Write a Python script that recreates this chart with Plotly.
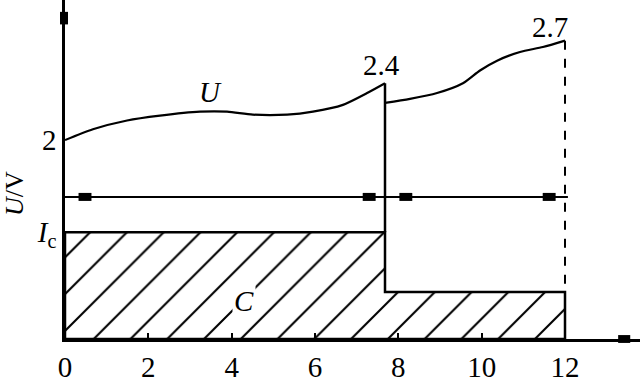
import plotly.graph_objects as go

# ---- data ----
# U curve, first segment (t from 0 to the switching point)
u1_x = [0.0, 0.67, 1.49, 2.28, 3.24, 3.89, 4.51, 5.33, 5.95, 6.67, 7.25, 7.68]
u1_y = [2.0, 2.076, 2.138, 2.172, 2.2, 2.2, 2.179, 2.179, 2.2, 2.248, 2.331, 2.4]
# U curve, second segment
u2_x = [7.68, 8.28, 8.93, 9.55, 9.96, 10.37, 10.92, 11.47, 12.0]
u2_y = [2.262, 2.29, 2.331, 2.4, 2.49, 2.559, 2.62, 2.655, 2.7]

t_switch = 7.68
t_end = 12.0
level_ic = 1.352      # I_c level
level_low = 0.931     # lower current level after switching
level_bar = 1.6       # horizontal bar with blocks
bar_end = 12.07
block_x = [0.48, 7.3, 8.18, 11.62]
block_half = 0.155
y_base = 0.6
y_top = 2.986
x_max = 13.8

xticks = [0, 2, 4, 6, 8, 10, 12]
peak_labels = ["2.4", "2.7"]

FONT = "Liberation Serif, Times New Roman, serif"
BLACK = "#000000"

fig = go.Figure()

# hatched region (capacity C)
fig.add_trace(go.Scatter(
    x=[0, 0, t_switch, t_switch, t_end, t_end, 0],
    y=[y_base, level_ic, level_ic, level_low, level_low, y_base, y_base],
    mode="lines", fill="toself", fillcolor="white",
    fillpattern=dict(shape="/", size=26, solidity=0.08, fgcolor=BLACK, fgopacity=1,
                     bgcolor="white"),
    line=dict(color=BLACK, width=2.5), hoverinfo="skip", showlegend=False))

# vertical drop at switching point
fig.add_trace(go.Scatter(x=[t_switch, t_switch], y=[u1_y[-1], level_ic], mode="lines",
                         line=dict(color=BLACK, width=2.5), showlegend=False))
# dashed vertical at the end
fig.add_trace(go.Scatter(x=[t_end, t_end], y=[u2_y[-1], level_low], mode="lines",
                         line=dict(color=BLACK, width=2, dash="dash"), showlegend=False))

# U curve
fig.add_trace(go.Scatter(x=u1_x, y=u1_y, mode="lines",
                         line=dict(color=BLACK, width=2.2, shape="spline", smoothing=0.7),
                         showlegend=False))
fig.add_trace(go.Scatter(x=u2_x, y=u2_y, mode="lines",
                         line=dict(color=BLACK, width=2.2, shape="spline", smoothing=0.7),
                         showlegend=False))

# horizontal bar line
fig.add_trace(go.Scatter(x=[0, bar_end], y=[level_bar, level_bar], mode="lines",
                         line=dict(color=BLACK, width=2), showlegend=False))
# blocks on the bar
bx, by = [], []
for b in block_x:
    bx += [b - block_half, b + block_half, None]
    by += [level_bar, level_bar, None]
fig.add_trace(go.Scatter(x=bx, y=by, mode="lines", line=dict(color=BLACK, width=8),
                         showlegend=False))

# text labels
fig.add_annotation(x=u1_x[-1], y=u1_y[-1], text=peak_labels[0], showarrow=False,
                   yanchor="bottom", yshift=0, xshift=-4, font=dict(family=FONT, size=29, color=BLACK))
fig.add_annotation(x=u2_x[-1], y=u2_y[-1], text=peak_labels[1], showarrow=False,
                   yanchor="bottom", yshift=-4, xshift=-15, font=dict(family=FONT, size=29, color=BLACK))
fig.add_annotation(x=3.5, y=2.34, text="<i>U</i>", showarrow=False,
                   font=dict(family=FONT, size=29, color=BLACK))
fig.add_annotation(x=4.3, y=0.87, text="<i>C</i>", showarrow=False, bgcolor="white",
                   borderpad=1, font=dict(family=FONT, size=29, color=BLACK))
fig.add_annotation(xref="paper", yref="paper", x=0, y=0.428, xshift=-50, xanchor="center",
                   yanchor="middle", text="<i>U</i>/V",
                   textangle=-90, showarrow=False, font=dict(family=FONT, size=26, color=BLACK))

# axis end blocks
fig.add_shape(type="rect", xref="paper", yref="paper", x0=-0.0087, x1=0.0052, y0=0.928, y1=0.965,
              fillcolor=BLACK, line=dict(width=0))
fig.add_shape(type="rect", xref="paper", yref="paper", x0=0.962, x1=0.983, y0=-0.0116, y1=0.0116,
              fillcolor=BLACK, line=dict(width=0))

fig.update_layout(
    width=640, height=383,
    margin=dict(l=65, r=0, t=0, b=37),
    paper_bgcolor="white", plot_bgcolor="white",
    font=dict(family=FONT, size=29, color=BLACK),
    showlegend=False,
    xaxis=dict(range=[0, x_max], tickvals=xticks, ticks="inside", ticklen=6, tickwidth=1.5,
               tickcolor=BLACK, showline=True, linecolor=BLACK, linewidth=2.5,
               showgrid=False, zeroline=False, tickfont=dict(family=FONT, size=29)),
    yaxis=dict(range=[y_base, y_top], tickvals=[2, level_ic],
               ticktext=["2", "<i>I</i><sub>c</sub>"], ticks="", showline=True, linecolor=BLACK,
               linewidth=2.5, showgrid=False, zeroline=False, tickfont=dict(family=FONT, size=29)),
)

fig.write_html("out.html")
